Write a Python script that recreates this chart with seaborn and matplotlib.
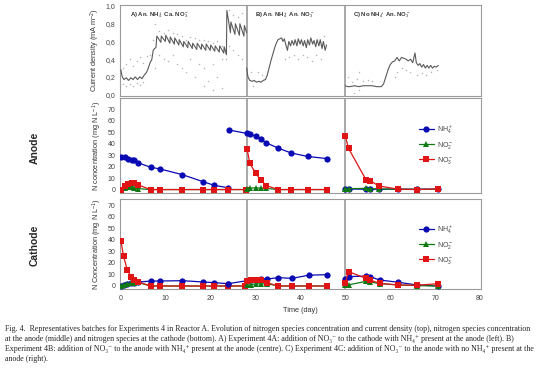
import matplotlib
matplotlib.use('Agg')
import matplotlib.pyplot as plt
import seaborn as sns

# current density (top panel), one trace per experiment
cdA_t = [0.0, 0.3, 0.7, 1.2, 1.7, 2.2, 2.7, 3.2, 3.7, 4.2, 4.7, 5.2, 5.7, 6.1, 6.5, 6.9, 7.2, 7.5, 7.8,
         8.0, 8.9, 9.0, 9.9, 10.0, 10.9, 11.0, 11.9, 12.0, 12.9, 13.0, 13.9, 14.0, 14.9, 15.0, 15.9,
         16.0, 16.9, 17.0, 17.9, 18.0, 18.9, 19.0, 19.9, 20.0, 20.9, 21.0, 21.9, 22.0, 22.9, 23.0, 23.5,
         23.6, 24.4, 24.5, 25.4, 25.5, 26.4, 26.5, 27.4, 27.5, 28.0]
cdA_v = [0.28, 0.20, 0.17, 0.19, 0.16, 0.19, 0.17, 0.20, 0.17, 0.20, 0.18, 0.22, 0.25, 0.30, 0.36, 0.40, 0.50, 0.52, 0.53,
         0.66, 0.59, 0.66, 0.60, 0.67, 0.58, 0.65, 0.57, 0.64, 0.56, 0.62, 0.54, 0.60, 0.53, 0.60, 0.52,
         0.58, 0.51, 0.58, 0.51, 0.57, 0.50, 0.57, 0.50, 0.56, 0.49, 0.55, 0.48, 0.55, 0.47, 0.54, 0.45,
         0.95, 0.70, 0.82, 0.68, 0.80, 0.67, 0.80, 0.66, 0.78, 0.70]
cdB_t = [28.0, 28.3, 28.7, 29.2, 29.7, 30.2, 30.7, 31.2, 31.7, 32.2, 32.6, 33.0, 33.4, 33.8, 34.2, 34.6,
         35.0, 35.4, 35.8, 36.1, 36.4, 36.8, 37.1, 37.4, 37.8, 38.1, 38.5, 38.8, 39.2, 39.5, 39.9, 40.2,
         40.6, 40.9, 41.3, 41.6, 42.0, 42.3, 42.7, 43.0, 43.4, 43.7, 44.1, 44.4, 44.8, 45.1, 45.5, 45.8]
cdB_v = [0.30, 0.20, 0.16, 0.15, 0.16, 0.14, 0.15, 0.14, 0.16, 0.17, 0.22, 0.30, 0.38, 0.45, 0.52, 0.58,
         0.62, 0.63, 0.64, 0.60, 0.63, 0.55, 0.50, 0.60, 0.55, 0.61, 0.56, 0.62, 0.55, 0.63, 0.57, 0.62,
         0.55, 0.61, 0.53, 0.62, 0.56, 0.64, 0.57, 0.61, 0.54, 0.62, 0.55, 0.62, 0.52, 0.60, 0.50, 0.56]
cdC_t = [50.0, 50.5, 51.0, 52.0, 53.0, 54.0, 55.0, 56.0, 57.0, 58.0, 58.5, 59.0, 59.5, 60.0, 60.5,
         61.0, 61.5, 62.0, 62.5, 63.0, 63.5, 64.0, 64.5, 65.0, 65.5, 65.8, 66.2, 66.6, 67.0, 67.4,
         67.8, 68.2, 68.6, 69.0, 69.4, 69.8, 70.2, 70.7]
cdC_v = [0.10, 0.09, 0.09, 0.10, 0.09, 0.10, 0.10, 0.10, 0.09, 0.09, 0.12, 0.20, 0.28, 0.34, 0.37,
         0.38, 0.42, 0.38, 0.42, 0.41, 0.40, 0.38, 0.40, 0.36, 0.47, 0.36, 0.33, 0.35, 0.31, 0.34,
         0.30, 0.33, 0.30, 0.33, 0.30, 0.32, 0.31, 0.33]

# raw current density readings (grey dots)
dots_t = [0.5, 0.5, 1.2, 1.2, 2.0, 2.0, 2.7, 2.7, 3.5, 3.5, 4.2, 4.2, 5.0, 5.0, 5.8, 6.5, 7.2, 7.7, 7.7,
          8.5, 8.5, 9.5, 9.5, 10.5, 10.5, 11.5, 11.5, 12.5, 12.5, 13.5, 13.5, 14.5, 14.5, 15.5, 15.5,
          16.5, 16.5, 17.5, 17.5, 18.5, 18.5, 18.5, 19.5, 19.5, 20.5, 20.5, 20.5, 21.5, 21.5, 22.5,
          22.5, 22.5, 23.5, 24.0, 24.0, 25.0, 25.0, 26.0, 26.0, 27.0, 27.0,
          29.0, 29.5, 30.5, 31.5, 36.5, 37.5, 38.5, 39.5, 40.5, 41.5, 42.5, 43.5, 44.5, 45.3,
          50.5, 51.5, 52.5, 53.0, 54.0, 55.0, 56.0, 52.0, 53.0, 61.0, 61.5, 62.5, 63.5, 64.5,
          66.0, 67.0, 68.0, 69.0, 70.5]
dots_v = [0.30, 0.12, 0.35, 0.10, 0.40, 0.12, 0.32, 0.10, 0.38, 0.13, 0.42, 0.11, 0.36, 0.14, 0.44, 0.45, 0.62, 0.80, 0.30,
          0.45, 0.72, 0.40, 0.70, 0.38, 0.73, 0.45, 0.70, 0.35, 0.68, 0.30, 0.66, 0.25, 0.62, 0.40, 0.65,
          0.20, 0.64, 0.35, 0.62, 0.10, 0.30, 0.62, 0.15, 0.60, 0.05, 0.35, 0.58, 0.20, 0.60, 0.08,
          0.40, 0.55, 0.40, 0.95, 0.55, 0.90, 0.50, 0.88, 0.45, 0.92, 0.40,
          0.25, 0.10, 0.25, 0.22, 0.40, 0.42, 0.45, 0.40, 0.45, 0.42, 0.38, 0.45, 0.40, 0.66,
          0.20, 0.14, 0.18, 0.25, 0.15, 0.16, 0.15, 0.02, 0.05, 0.20, 0.25, 0.30, 0.28, 0.25,
          0.22, 0.24, 0.22, 0.25, 0.28]

# anode concentrations (mg N/L)
an_A_t = [0.0, 0.9, 1.6, 2.4, 2.9, 3.9, 6.6, 8.7, 13.7, 18.2, 20.7, 23.9, 27.8]
an_A_nh4 = [28.3, 28.3, 26.8, 26.2, 25.4, 23.3, 19.5, 18.0, 13.0, 7.0, 3.8, 1.5, None]
an_A_no2 = [0.0, 1.0, 1.8, 2.0, 1.5, 0.8, 0.0, 0.0, 0.0, 0.0, 0.0, 0.0, 0.0]
an_A_no3 = [0.0, 3.5, 5.0, 5.8, 5.5, 4.0, 0.0, 0.0, 0.0, 0.0, 0.0, 0.0, 0.0]
an_B_t = [24.1, 28.1, 28.7, 30.0, 31.1, 32.4, 35.0, 37.9, 41.6, 45.8]
an_B_nh4 = [52.0, 49.0, 48.4, 46.6, 44.0, 40.8, 36.2, 32.0, 28.9, 27.1]
an_B_no2 = [None, 0.5, 1.2, 1.5, 1.2, 1.0, 0.0, 0.0, 0.0, 0.0]
an_B_no3 = [None, 35.5, 23.0, 14.3, 8.5, 3.5, 0.0, 0.0, 0.0, 0.0]
an_C_t = [50.0, 50.7, 54.6, 55.5, 57.4, 61.8, 65.9, 70.7]
an_C_nh4 = [0.5, 0.5, 0.3, 0.3, 0.3, 0.3, 0.3, 0.3]
an_C_no2 = [0.5, 0.8, 1.0, 0.8, 0.6, 0.3, 0.2, 0.2]
an_C_no3 = [46.4, 36.0, 8.5, 7.9, 3.2, 0.3, 0.0, 0.6]

# cathode concentrations (mg N/L)
ca_A_t = [0.0, 0.6, 1.4, 2.3, 3.0, 3.7, 6.6, 8.7, 13.7, 18.2, 20.7, 23.9, 27.7]
ca_A_nh4 = [0.3, 0.5, 1.4, 2.3, 2.9, 3.3, 4.3, 4.3, 4.6, 3.5, 2.9, 2.0, None]
ca_A_no2 = [0.3, 1.0, 2.0, 2.5, 3.0, 3.2, 0.0, 0.0, 0.0, 0.0, 0.0, 0.0, 0.0]
ca_A_no3 = [38.8, 25.7, 14.2, 7.8, 5.5, 3.8, 0.0, 0.0, 0.0, 0.0, 0.0, 0.0, 0.0]
ca_B_t = [23.9, 28.1, 29.0, 30.0, 31.3, 32.5, 35.1, 38.1, 41.8, 45.8]
ca_B_nh4 = [2.0, 4.6, 4.9, 5.5, 6.0, 6.0, 7.2, 6.6, 9.3, 9.8]
ca_B_no2 = [None, 0.5, 1.2, 1.8, 1.8, 2.0, 0.0, 0.0, 0.0, 0.0]
ca_B_no3 = [None, 4.5, 5.0, 5.0, 4.8, 2.9, 0.0, 0.0, 0.0, 0.0]
ca_C_t = [50.0, 50.7, 54.6, 55.5, 57.6, 61.8, 65.9, 70.7]
ca_C_nh4 = [6.3, 8.1, 8.6, 8.1, 5.2, 3.2, 0.9, 0.0]
ca_C_no2 = [0.5, 1.0, 4.0, 3.5, 2.0, 0.9, 0.3, 0.0]
ca_C_no3 = [2.9, 12.4, 6.6, 5.2, 2.3, 0.9, 0.6, 2.0]

species = [(r'NH$_4^+$', '#0a0ab4', 'o'), (r'NO$_2^-$', '#0f7a14', '^'), (r'NO$_3^-$', '#e01414', 's')]

sns.set_style('white')
plt.rcParams['font.family'] = ['Liberation Sans', 'DejaVu Sans']
plt.rcParams['mathtext.fontset'] = 'custom'
plt.rcParams['mathtext.rm'] = 'Liberation Sans'

fig = plt.figure(figsize=(5.54, 3.69), dpi=100)
ax_top = fig.add_axes([0.2166, 0.740, 0.6516, 0.2466])
ax_an = fig.add_axes([0.2166, 0.477, 0.6516, 0.2575])
ax_ca = fig.add_axes([0.2166, 0.2168, 0.6516, 0.2439])

grey = '#9a9a9a'
for ax in (ax_top, ax_an, ax_ca):
    for s in ax.spines.values():
        s.set_color(grey)
        s.set_linewidth(0.8)
    ax.set_xlim(-0.2, 80.2)
    ax.tick_params(axis='y', labelsize=5, colors='#444444', length=2, width=0.6, pad=1.5)
    ax.tick_params(axis='y', color=grey)
    ax.axvline(28, color=grey, lw=1.2, zorder=1)
    ax.axvline(50, color=grey, lw=1.2, zorder=1)

# top panel
sns.scatterplot(x=dots_t, y=dots_v, ax=ax_top, color='#b4b4b4', s=1.2, linewidth=0, zorder=2)
for t, v in ((cdA_t, cdA_v), (cdB_t, cdB_v), (cdC_t, cdC_v)):
    sns.lineplot(x=t, y=v, ax=ax_top, color='#5a5a5a', lw=0.8, sort=False, zorder=3)
ax_top.set_ylim(-0.015, 1.012)
ax_top.set_yticks([0, 0.2, 0.4, 0.6, 0.8, 1.0])
ax_top.set_yticklabels(['0,0', '0,2', '0,4', '0,6', '0,8', '1,0'])
ax_top.set_xticks([])
ax_top.set_ylabel(r'Current density (mA m$^{-2}$)', fontsize=5.3, color='#333333', labelpad=2)
lab_kw = dict(fontsize=4.3, fontweight='bold', color='#333333', va='center')
ax_top.text(2.0, 0.9, r'A) An. NH$_4^+$ Ca. NO$_3^-$', **lab_kw)
ax_top.text(29.8, 0.9, r'B) An. NH$_4^+$ An. NO$_3^-$', **lab_kw)
ax_top.text(51.7, 0.9, r'C) No NH$_4^+$ An. NO$_3^-$', **lab_kw)


def conc_panel(ax, segments, ylabel):
    for i, (t, nh4, no2, no3) in enumerate(segments):
        for (name, col, mk), vals in zip(species, (nh4, no2, no3)):
            xs = [a for a, b in zip(t, vals) if b is not None]
            ys = [b for b in vals if b is not None]
            sns.lineplot(x=xs, y=ys, ax=ax, color=col, marker=mk, markersize=4.5,
                         markeredgewidth=0, lw=0.9, label=name if i == 0 else None,
                         sort=False, zorder=4)
    ax.set_ylim(-3, 80)
    ax.set_yticks(range(0, 80, 10))
    ax.set_ylabel(ylabel, fontsize=5.3, color='#333333', labelpad=2)
    ax.legend(loc='upper left', bbox_to_anchor=(0.81, 0.8), frameon=False, fontsize=5,
              handlelength=2.2, labelspacing=0.6, handletextpad=0.4, labelcolor='#444444')


conc_panel(ax_an, [(an_A_t, an_A_nh4, an_A_no2, an_A_no3),
                   (an_B_t, an_B_nh4, an_B_no2, an_B_no3),
                   (an_C_t, an_C_nh4, an_C_no2, an_C_no3)],
           r'N concentration (mg N L$^{-1}$)')
ax_an.set_xticks([])

conc_panel(ax_ca, [(ca_A_t, ca_A_nh4, ca_A_no2, ca_A_no3),
                   (ca_B_t, ca_B_nh4, ca_B_no2, ca_B_no3),
                   (ca_C_t, ca_C_nh4, ca_C_no2, ca_C_no3)],
           r'N Concentration (mg N L$^{-1}$)')
ax_ca.set_ylim(-2.6, 75.2)
ax_ca.set_xticks(range(0, 90, 10))
ax_ca.tick_params(axis='x', labelsize=5, colors='#444444', length=2, width=0.6, pad=2)
ax_ca.tick_params(axis='x', color=grey)
ax_ca.set_xlabel('Time (day)', fontsize=5.3, color='#333333')
ax_ca.xaxis.set_label_coords(0.5, -0.2)

fig.text(0.063, 0.60, 'Anode', rotation=90, fontsize=7.5, fontweight='bold', ha='center', va='center')
fig.text(0.063, 0.335, 'Cathode', rotation=90, fontsize=7.5, fontweight='bold', ha='center', va='center')

caption = [
    'Fig. 4.  Representatives batches for Experiments 4 in Reactor A. Evolution of nitrogen species concentration and current density (top), nitrogen species concentration',
    'at the anode (middle) and nitrogen species at the cathode (bottom). A) Experiment 4A: addition of NO₃⁻ to the cathode with NH₄⁺ present at the anode (left). B)',
    'Experiment 4B: addition of NO₃⁻ to the anode with NH₄⁺ present at the anode (centre). C) Experiment 4C: addition of NO₃⁻ to the anode with no NH₄⁺ present at the',
    'anode (right).',
]
for k, line in enumerate(caption):
    fig.text(0.009, 1 - (329 + 10 * k) / 369, line, fontsize=5.7, va='center', ha='left',
             family=['Liberation Serif', 'DejaVu Serif'], color='#222222')

plt.savefig('out.png', dpi=100)
